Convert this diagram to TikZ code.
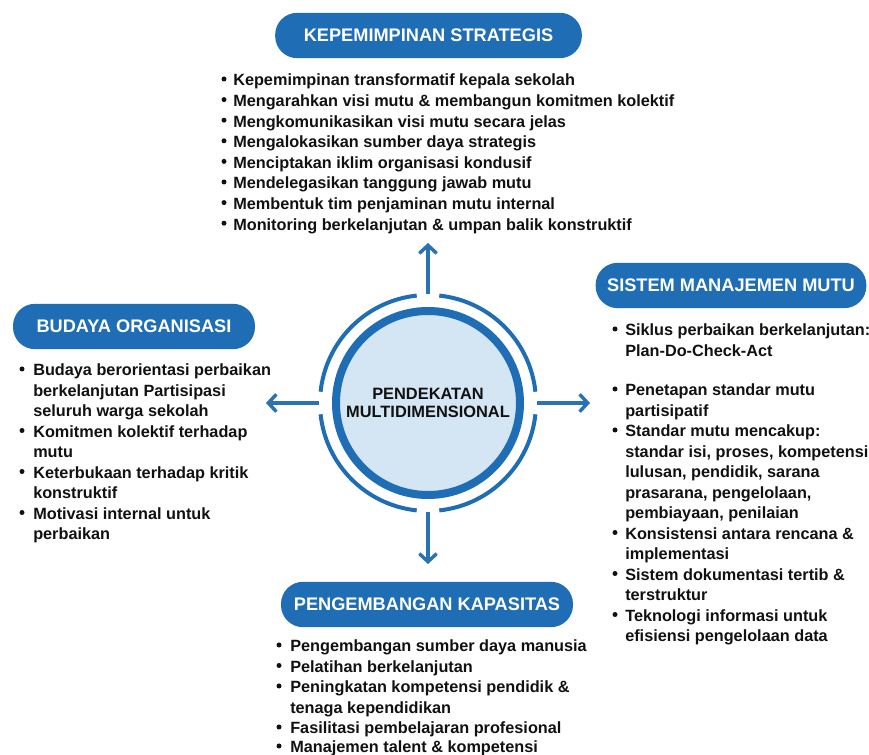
\documentclass[tikz,border=0pt]{standalone}
\usepackage{fontspec}
\setmainfont{Liberation Sans}
\usetikzlibrary{arrows.meta,calc}
\definecolor{pillblue}{HTML}{1E6DB5}
\definecolor{ringblue}{HTML}{1F6DB4}
\definecolor{arrblue}{HTML}{2A72B2}
\definecolor{innerfill}{HTML}{D4E5F4}
\definecolor{txt}{HTML}{111111}
\newcommand{\hdfont}{\fontsize{13.65pt}{16pt}\selectfont\bfseries}
\newcommand{\bdfont}{\fontsize{12.2pt}{15pt}\selectfont\bfseries}
\newcommand{\ctfont}{\fontsize{12.3pt}{14.6pt}\selectfont\bfseries}
\tikzset{
  pill/.style={rectangle, rounded corners=16.5pt, fill=pillblue, text=white, font=\hdfont, inner sep=0pt, minimum height=34pt},
  line/.style={anchor=base west, inner sep=0pt, text=txt, font=\bdfont},
  arr/.style={draw=arrblue, line width=3pt, -{Straight Barb[length=6pt,width=13pt,line width=2.6pt]}},
  bul/.style={fill=txt}
}
\begin{document}
\begin{tikzpicture}[x=0.75pt,y=-0.75pt]
\useasboundingbox (0,0) rectangle (869,755);
\fill[white] (0,0) rectangle (869,755);

% headers
\node[pill, minimum width=230pt] (hs) at (428.5,35.5) {KEPEMIMPINAN STRATEGIS};
\node[pill, minimum width=181.5pt] (hb) at (134,326.5) {BUDAYA ORGANISASI};
\node[pill, minimum width=203pt] (hm) at (731,285.5) {SISTEM MANAJEMEN MUTU};
\node[pill, minimum width=219pt] (hk) at (427,604.5) {PENGEMBANGAN KAPASITAS};

% centre
\node[circle, minimum size=218pt*0.75, inner sep=0pt] (ring) at (428,403) {};
\node[circle, fill=innerfill, draw=ringblue, line width=6pt, minimum size=184pt*0.75, inner sep=0pt, font=\ctfont, text=txt, align=center] (c) at (428,403) {PENDEKATAN\\[-1pt]MULTIDIMENSIONAL};
\foreach \a in {6,96,186,276}{
  \draw[ringblue, line width=3pt] ($(428,403)+(\a:108)$) arc[start angle=\a, end angle=\a+78, radius=108];
}
\coordinate (tu) at (428,243);
\coordinate (td) at (428,564);
\coordinate (tl) at (266,403);
\coordinate (tr) at (590,403);
\draw[arr] (ring.north) -- (tu);
\draw[arr] (ring.south) -- (td);
\draw[arr] (ring.west) -- (tl);
\draw[arr] (ring.east) -- (tr);

% top list
\foreach \i/\y/\b/\t in {
 1/86/1/Kepemimpinan transformatif kepala sekolah,
 2/106.6/1/Mengarahkan visi mutu \& membangun komitmen kolektif,
 3/127.2/1/Mengkomunikasikan visi mutu secara jelas,
 4/147.8/1/Mengalokasikan sumber daya strategis,
 5/168.4/1/Menciptakan iklim organisasi kondusif,
 6/189/1/Mendelegasikan tanggung jawab mutu,
 7/209.6/1/Membentuk tim penjaminan mutu internal,
 8/230.2/1/Monitoring berkelanjutan \& umpan balik konstruktif}{
  \node[line] (s\i) at (233,\y) {\t};
  \ifnum\b=1 \fill[bul] (224,\y-7) circle[radius=2.5];\fi
}

% left list
\foreach \i/\y/\b/\t in {
 1/376/1/Budaya berorientasi perbaikan,
 2/396.5/0/berkelanjutan Partisipasi,
 3/417/0/seluruh warga sekolah,
 4/437.5/1/Komitmen kolektif terhadap,
 5/458/0/mutu,
 6/478.5/1/Keterbukaan terhadap kritik,
 7/499/0/konstruktif,
 8/519.5/1/Motivasi internal untuk,
 9/540/0/perbaikan}{
  \node[line] (b\i) at (33,\y) {\t};
  \ifnum\b=1 \fill[bul] (22,\y-7) circle[radius=2.5];\fi
}

% right list
\foreach \i/\y/\b/\t in {
 1/336/1/Siklus perbaikan berkelanjutan:,
 2/356.5/0/Plan-Do-Check-Act,
 3/396/1/Penetapan standar mutu,
 4/416.5/0/partisipatif,
 5/437/1/Standar mutu mencakup:,
 6/457.5/0/{standar isi, proses, kompetensi},
 7/478/0/{lulusan, pendidik, sarana},
 8/498.5/0/{prasarana, pengelolaan,},
 9/519/0/{pembiayaan, penilaian},
 10/539.5/1/Konsistensi antara rencana \&,
 11/560/0/implementasi,
 12/580.5/1/Sistem dokumentasi tertib \&,
 13/601/0/terstruktur,
 14/621.5/1/Teknologi informasi untuk,
 15/642/0/efisiensi pengelolaan data}{
  \node[line] (m\i) at (625,\y) {\t};
  \ifnum\b=1 \fill[bul] (615,\y-7) circle[radius=2.5];\fi
}

% bottom list
\foreach \i/\y/\b/\t in {
 1/652/1/Pengembangan sumber daya manusia,
 2/672.5/1/Pelatihan berkelanjutan,
 3/693/1/Peningkatan kompetensi pendidik \&,
 4/713.5/0/tenaga kependidikan,
 5/734/1/Fasilitasi pembelajaran profesional,
 6/753/1/Manajemen talent \& kompetensi}{
  \node[line] (k\i) at (290,\y) {\t};
  \ifnum\b=1 \fill[bul] (279,\y-7) circle[radius=2.5];\fi
}
\end{tikzpicture}
\end{document}
